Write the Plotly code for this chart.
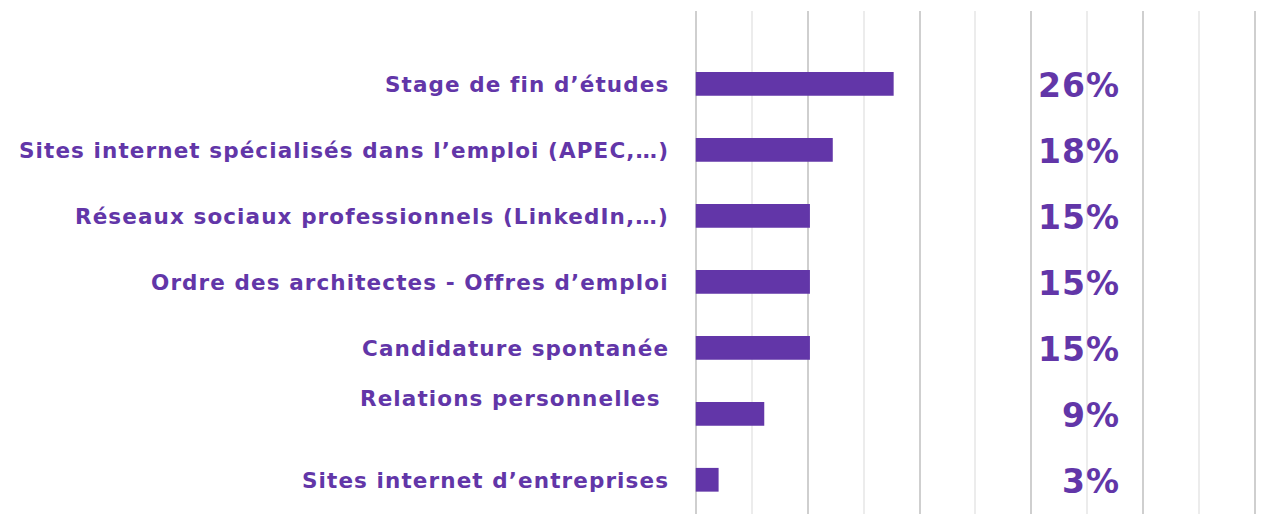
import plotly.graph_objects as go

# Canaux utilisés pour trouver le premier emploi (part des répondants, %)
categories = [
    "Stage de fin d’études",
    "Sites internet spécialisés dans l’emploi (APEC,…)",
    "Réseaux sociaux professionnels (LinkedIn,…)",
    "Ordre des architectes - Offres d’emploi",
    "Candidature spontanée",
    "Relations personnelles",
    "Sites internet d’entreprises",
]
values = [26, 18, 15, 15, 15, 9, 3]
value_labels = ["26%", "18%", "15%", "15%", "15%", "9%", "3%"]

PURPLE = "#6236a8"
FONT = "DejaVu Sans"

fig = go.Figure(
    go.Bar(
        x=values,
        y=list(range(len(categories))),
        orientation="h",
        marker=dict(color=PURPLE, line=dict(width=0)),
        width=0.36,
        hoverinfo="skip",
    )
)

# libellés des catégories (à gauche) et pourcentages (à droite)
annotations = []
for i, (cat, lab) in enumerate(zip(categories, value_labels)):
    shift_y = 16 if cat == "Relations personnelles" else 0
    shift_x = -8 if cat == "Relations personnelles" else 0
    annotations.append(dict(
        x=-0.042, xref="paper", y=i, yref="y",
        text=f'<span style="letter-spacing:1.1px"><b>{cat}</b></span>',
        showarrow=False,
        xanchor="right", yanchor="middle",
        xshift=shift_x, yshift=shift_y - 1,
        font=dict(family=FONT, size=21.5, color=PURPLE),
    ))
    annotations.append(dict(
        x=0.754, xref="paper", y=i, yref="y",
        text=f'<span style="letter-spacing:1px"><b>{lab}</b></span>',
        showarrow=False,
        xanchor="right", yanchor="middle", yshift=-2, xshift=2,
        font=dict(family=FONT, size=33, color=PURPLE),
    ))

fig.update_layout(
    width=1265,
    height=514,
    margin=dict(l=687, r=14, t=3, b=0),
    plot_bgcolor="white",
    paper_bgcolor="white",
    showlegend=False,
    annotations=annotations,
    xaxis=dict(
        range=[-0.1, 74.0],
        tick0=0,
        dtick=14.7,
        showgrid=True,
        gridcolor="#cfcfcf",
        gridwidth=2,
        zeroline=True,
        zerolinecolor="#cfcfcf",
        zerolinewidth=2,
        showticklabels=False,
        showline=False,
        minor=dict(dtick=7.35, tick0=0, showgrid=True, gridcolor="#ececec", gridwidth=1.5),
        fixedrange=True,
    ),
    yaxis=dict(
        range=[6.64, -1.106],
        showgrid=False,
        zeroline=False,
        showticklabels=False,
        showline=False,
        fixedrange=True,
    ),
)

fig.write_html("out.html")
